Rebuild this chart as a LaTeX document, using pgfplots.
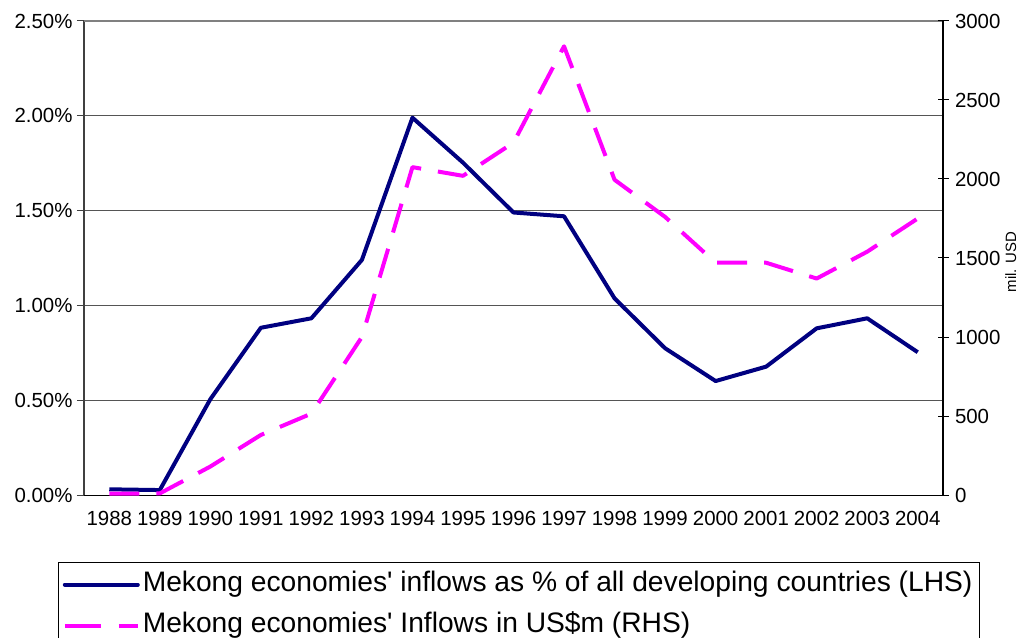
\documentclass[border=0pt]{standalone}
\usepackage{fontspec}
\setmainfont{Liberation Sans}
\usepackage{pgfplots}
\pgfplotsset{compat=1.18}

\definecolor{navyline}{RGB}{0,0,128}
\definecolor{magline}{RGB}{255,0,255}
\definecolor{gridc}{RGB}{85,85,85}

\newcommand{\tickfont}{\fontsize{20.5}{23}\selectfont}

\begin{document}
\begin{tikzpicture}
\path[use as bounding box] (-84bp,-143bp) rectangle (939bp,495bp);

%% left axis: share of developing countries
\begin{axis}[
  scale only axis,
  width=859bp, height=474bp,
  xmin=-0.5, xmax=16.5,
  ymin=0, ymax=2.5,
  axis y line*=left,
  axis x line*=bottom,
  axis line style={line width=1bp},
  y axis line style={draw=black!75, line width=2bp},
  xtick={0,...,16},
  xticklabels={1988,1989,1990,1991,1992,1993,1994,1995,1996,1997,1998,1999,2000,2001,2002,2003,2004},
  major x tick style={draw=none},
  extra x ticks={-0.5,0.5,...,16.5},
  extra x tick labels={},
  extra x tick style={major tick length=7bp, tick align=outside, tick style={draw=black, line width=1bp}},
  ytick={0,0.5,1,1.5,2},
  yticklabels={0.00\%,0.50\%,1.00\%,1.50\%,2.00\%},
  extra y ticks={2.5},
  extra y tick labels={2.50\%},
  extra y tick style={grid=none},
  ymajorgrids,
  grid style={draw=gridc, line width=1bp},
  tick align=outside,
  major tick length=7bp,
  tick style={draw=black!75, line width=1bp},
  tick label style={font=\tickfont},
  xticklabel style={yshift=-6bp},
  yticklabel style={xshift=-1bp},
]
\addplot[navyline, line width=4bp, line join=round] coordinates {
  (0,0.030) (1,0.026) (2,0.505) (3,0.882) (4,0.932) (5,1.24) (6,1.99)
  (7,1.753) (8,1.49) (9,1.47) (10,1.037) (11,0.774) (12,0.601)
  (13,0.677) (14,0.879) (15,0.932) (16,0.753)
};
\draw[draw=gray, line width=2bp] (rel axis cs:0,1) -- (rel axis cs:1,1);
\end{axis}

%% right axis: inflows in US$m
\begin{axis}[
  scale only axis,
  width=859bp, height=474bp,
  xmin=-0.5, xmax=16.5,
  ymin=0, ymax=3000,
  axis y line*=right,
  axis x line=none,
  y axis line style={draw=black, line width=1.5bp},
  ytick={0,500,1000,1500,2000,2500,3000},
  yticklabels={0,500,1000,1500,2000,2500,3000},
  tick align=center,
  major tick length=11bp,
  tick style={draw=black, line width=1bp},
  tick label style={font=\tickfont},
  yticklabel style={xshift=3bp},
  ylabel={mil. USD},
  ylabel style={font=\fontsize{15}{17}\selectfont, yshift=2bp, xshift=-4bp},
  legend style={
    at={(axis description cs:-0.0299,-0.1405)}, anchor=north west,
    draw=black, line width=1bp,
    font=\fontsize{28.3}{30}\selectfont,
    inner xsep=4bp, inner ysep=2bp,
    cells={anchor=west},
    nodes={inner xsep=3bp, inner ysep=6bp, text height=21bp, text depth=8bp},
  },
]
\addlegendimage{legend image code/.code={\draw[navyline, line width=4bp, line cap=round] (0bp,0bp) -- (73bp,0bp);}}
\addlegendentry{Mekong economies\textquotesingle\ inflows as \% of all developing countries (LHS)}
\addlegendimage{legend image code/.code={\draw[magline, line width=4bp, dash pattern=on 36bp off 18bp] (0bp,0bp) -- (73bp,0bp);}}
\addlegendentry{Mekong economies\textquotesingle\ Inflows in US\$m (RHS)}
\addplot[magline, line width=4bp, line join=round, dash pattern=on 30bp off 17bp, forget plot] coordinates {
  (0,8) (1,10) (2,180) (3,380) (4,515) (5,1000) (6,2075) (7,2020)
  (8,2230) (9,2840) (10,1995) (11,1760) (12,1470) (13,1470) (14,1370)
  (15,1540) (16,1750)
};
\end{axis}
\end{tikzpicture}
\end{document}
